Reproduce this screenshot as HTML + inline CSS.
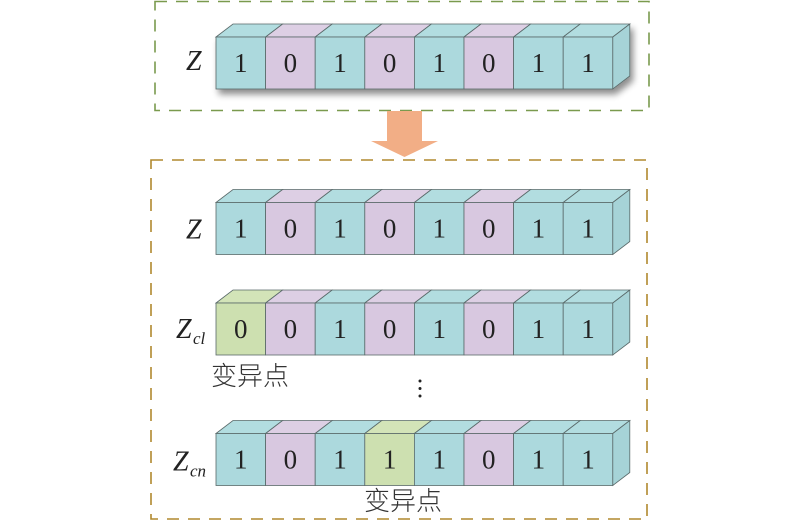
<!DOCTYPE html>
<html><head><meta charset="utf-8"><style>
html,body{margin:0;padding:0;background:#fff;}
svg{display:block;}
.n{font-family:"Liberation Serif",serif;font-size:27px;fill:#222;text-anchor:middle;}
.z{font-family:"Liberation Serif",serif;font-style:italic;font-size:28px;fill:#222;}
.s{font-family:"Liberation Serif",serif;font-style:italic;font-size:17px;fill:#222;}
.c{font-family:"Liberation Sans","Noto Sans CJK SC",sans-serif;font-size:26px;font-weight:300;fill:#333;}
</style></head><body>
<svg width="800" height="531" viewBox="0 0 800 531" xmlns="http://www.w3.org/2000/svg">
<defs>
<g id="T"><polygon points="0,0 17,-13 66.6,-13 49.6,0" fill="#b2dde0" stroke="#5a6a6a" stroke-width="0.8"/><rect x="0" y="0" width="49.6" height="52" fill="#acd9dd" stroke="#5a6a6a" stroke-width="0.8"/></g>
<g id="P"><polygon points="0,0 17,-13 66.6,-13 49.6,0" fill="#ddcfe4" stroke="#5a6a6a" stroke-width="0.8"/><rect x="0" y="0" width="49.6" height="52" fill="#d8c8e0" stroke="#5a6a6a" stroke-width="0.8"/></g>
<g id="G"><polygon points="0,0 17,-13 66.6,-13 49.6,0" fill="#d3e4b8" stroke="#5a6a6a" stroke-width="0.8"/><rect x="0" y="0" width="49.6" height="52" fill="#cde0b0" stroke="#5a6a6a" stroke-width="0.8"/></g>
<g id="E"><polygon points="612.8,0 629.8,-13 629.8,39 612.8,52" fill="#a6d3d7" stroke="#5a6a6a" stroke-width="0.8"/></g>
<filter id="sh" x="-10%" y="-30%" width="130%" height="200%"><feGaussianBlur in="SourceAlpha" stdDeviation="3.5"/><feOffset dx="3" dy="5"/><feComponentTransfer><feFuncA type="linear" slope="0.45"/></feComponentTransfer><feMerge><feMergeNode/><feMergeNode in="SourceGraphic"/></feMerge></filter>
</defs>

<rect x="155" y="1.5" width="494" height="109" fill="none" stroke="#7a9a4e" stroke-width="1.6" stroke-dasharray="12,9"/>
<rect x="151" y="160" width="496" height="359" fill="none" stroke="#b0892e" stroke-width="1.6" stroke-dasharray="12,9"/>

<polygon points="387,111 422,111 422,141 438,141 404.5,157 371,141 387,141" fill="#f2ae86"/>

<g transform="translate(0,37)">
<g filter="url(#sh)">
<use href="#T" x="216"/><use href="#P" x="265.6"/><use href="#T" x="315.2"/><use href="#P" x="364.8"/><use href="#T" x="414.4"/><use href="#P" x="464"/><use href="#T" x="513.6"/><use href="#T" x="563.2"/><use href="#E"/>
</g>
<text class="n" x="240.8" y="35">1</text><text class="n" x="290.4" y="35">0</text><text class="n" x="340" y="35">1</text><text class="n" x="389.6" y="35">0</text><text class="n" x="439.2" y="35">1</text><text class="n" x="488.8" y="35">0</text><text class="n" x="538.4" y="35">1</text><text class="n" x="588" y="35">1</text>
<text class="z" x="186" y="33">Z</text>
</g>

<g transform="translate(0,202.5)">
<use href="#T" x="216"/><use href="#P" x="265.6"/><use href="#T" x="315.2"/><use href="#P" x="364.8"/><use href="#T" x="414.4"/><use href="#P" x="464"/><use href="#T" x="513.6"/><use href="#T" x="563.2"/><use href="#E"/>
<text class="n" x="240.8" y="35">1</text><text class="n" x="290.4" y="35">0</text><text class="n" x="340" y="35">1</text><text class="n" x="389.6" y="35">0</text><text class="n" x="439.2" y="35">1</text><text class="n" x="488.8" y="35">0</text><text class="n" x="538.4" y="35">1</text><text class="n" x="588" y="35">1</text>
<text class="z" x="186" y="36">Z</text>
</g>

<g transform="translate(0,303)">
<use href="#G" x="216"/><use href="#P" x="265.6"/><use href="#T" x="315.2"/><use href="#P" x="364.8"/><use href="#T" x="414.4"/><use href="#P" x="464"/><use href="#T" x="513.6"/><use href="#T" x="563.2"/><use href="#E"/>
<text class="n" x="240.8" y="35">0</text><text class="n" x="290.4" y="35">0</text><text class="n" x="340" y="35">1</text><text class="n" x="389.6" y="35">0</text><text class="n" x="439.2" y="35">1</text><text class="n" x="488.8" y="35">0</text><text class="n" x="538.4" y="35">1</text><text class="n" x="588" y="35">1</text>
<text class="z" x="176" y="35">Z</text><text class="s" x="193" y="41">cl</text>
</g>
<text class="c" x="211" y="385">变异点</text>
<circle cx="420" cy="381" r="1.5" fill="#222"/><circle cx="420" cy="388.5" r="1.5" fill="#222"/><circle cx="420" cy="396" r="1.5" fill="#222"/>

<g transform="translate(0,433.5)">
<use href="#T" x="216"/><use href="#P" x="265.6"/><use href="#T" x="315.2"/><use href="#G" x="364.8"/><use href="#T" x="414.4"/><use href="#P" x="464"/><use href="#T" x="513.6"/><use href="#T" x="563.2"/><use href="#E"/>
<text class="n" x="240.8" y="35">1</text><text class="n" x="290.4" y="35">0</text><text class="n" x="340" y="35">1</text><text class="n" x="389.6" y="35">1</text><text class="n" x="439.2" y="35">1</text><text class="n" x="488.8" y="35">0</text><text class="n" x="538.4" y="35">1</text><text class="n" x="588" y="35">1</text>
<text class="z" x="173" y="37">Z</text><text class="s" x="190" y="43">cn</text>
</g>
<text class="c" x="364" y="510">变异点</text>
</svg>
</body></html>
